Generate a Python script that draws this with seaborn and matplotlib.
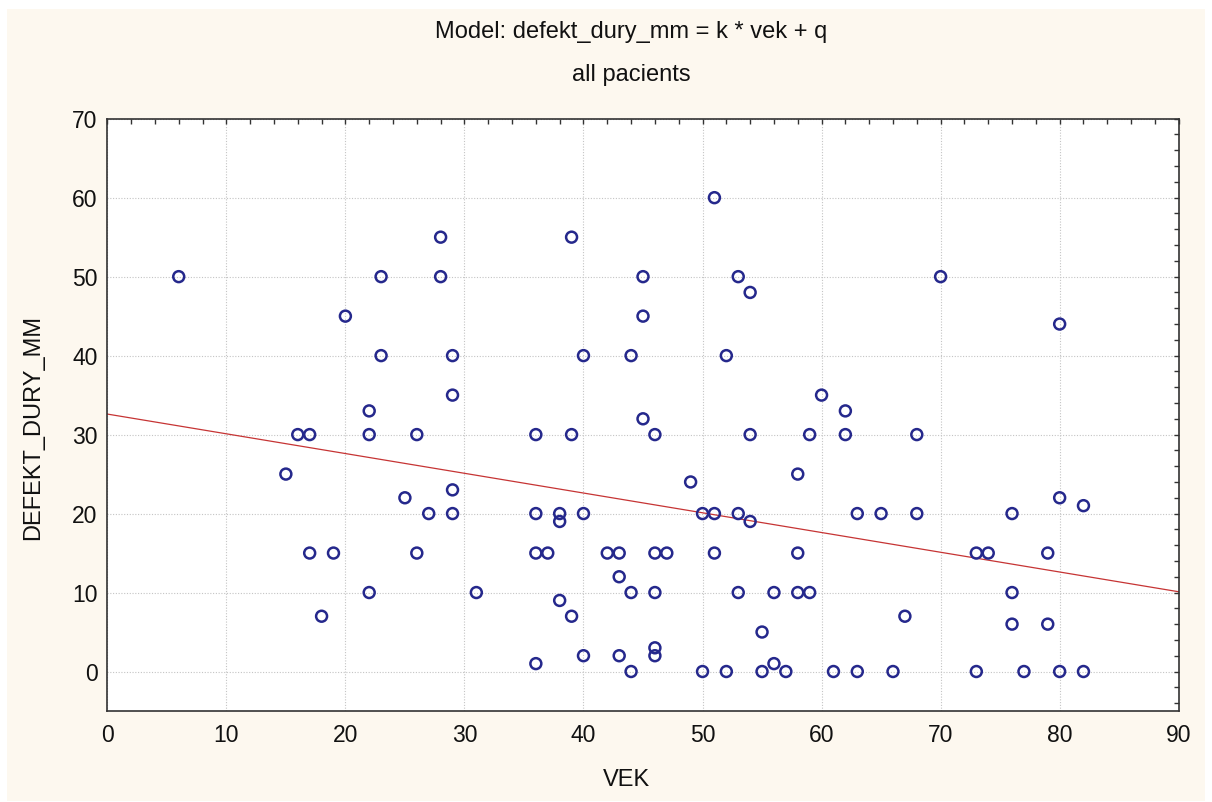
import numpy as np
import pandas as pd
import matplotlib
matplotlib.use("Agg")
import matplotlib.pyplot as plt
from matplotlib.patches import Rectangle
from matplotlib.ticker import MultipleLocator
import seaborn as sns

# Patient age (years) and dural defect size (mm)
vek = [6, 15, 16, 17, 17, 18, 19, 20, 22, 22, 22, 23, 23, 25, 26, 26, 27, 28, 28,
       29, 29, 29, 29, 31, 36, 36, 36, 36, 37, 38, 38, 38, 39, 39, 39, 40, 40, 40,
       42, 43, 43, 43, 44, 44, 44, 45, 45, 45, 46, 46, 46, 46, 46, 47, 49, 50, 50,
       51, 51, 51, 52, 52, 53, 53, 53, 54, 54, 54, 55, 55, 56, 56, 57, 58, 58, 58,
       59, 59, 60, 61, 62, 62, 63, 63, 65, 66, 67, 68, 68, 70, 73, 74, 73, 76, 76,
       76, 77, 79, 79, 80, 80, 80, 82, 82]
defekt_dury_mm = [50, 25, 30, 30, 15, 7, 15, 45, 33, 30, 10, 50, 40, 22, 30, 15, 20, 55, 50,
                  40, 35, 23, 20, 10, 30, 20, 15, 1, 15, 20, 19, 9, 55, 30, 7, 40, 20, 2,
                  15, 15, 12, 2, 40, 10, 0, 50, 45, 32, 30, 15, 10, 3, 2, 15, 24, 20, 0,
                  60, 20, 15, 40, 0, 50, 20, 10, 48, 30, 19, 5, 0, 10, 1, 0, 25, 15, 10,
                  30, 10, 35, 0, 33, 30, 20, 0, 20, 0, 7, 30, 20, 50, 15, 15, 0, 20, 10,
                  6, 0, 15, 6, 44, 22, 0, 21, 0]

# Linear model defekt_dury_mm = k * vek + q
k = -0.25
q = 32.6

x_range = [0, 90]
y_range = [-5, 70]

title_lines = ["Model: defekt_dury_mm = k * vek + q", "all pacients"]

df = pd.DataFrame({"VEK": vek, "DEFEKT_DURY_MM": defekt_dury_mm})
line_df = pd.DataFrame({"VEK": x_range})
line_df["fit"] = k * line_df["VEK"] + q

sns.set_theme(style="white")
plt.rcParams["font.family"] = ["Liberation Sans", "DejaVu Sans"]

W, H = 1212, 802
fig = plt.figure(figsize=(W / 100, H / 100), dpi=100, facecolor="white")
fig.patches.append(Rectangle((7 / W, 1 / H), (1205 - 7) / W, (793 - 1) / H,
                             transform=fig.transFigure, facecolor="#fdf8ef",
                             edgecolor="none", zorder=-10))

ax = fig.add_axes([107.3 / W, (H - 711) / H, 1071.4 / W, 592.3 / H])
ax.set_facecolor("white")

sns.lineplot(data=line_df, x="VEK", y="fit", ax=ax, color="#c63434",
             linewidth=0.9, zorder=2)
sns.scatterplot(data=df, x="VEK", y="DEFEKT_DURY_MM", ax=ax, marker="o", s=62,
                facecolor="none", edgecolor="#25288c", linewidth=1.8, zorder=3)

ax.set_xlim(*x_range)
ax.set_ylim(*y_range)
ax.xaxis.set_major_locator(MultipleLocator(10))
ax.xaxis.set_minor_locator(MultipleLocator(2))
ax.yaxis.set_major_locator(MultipleLocator(10))
ax.yaxis.set_minor_locator(MultipleLocator(2))

ax.grid(which="major", linestyle=(0, (1, 1.5)), color="#c4c4c4", linewidth=0.8)
ax.set_axisbelow(True)

ax.tick_params(which="both", direction="in", top=True, right=True,
               length=3.5, width=1.0, color="#333333")
ax.tick_params(axis="x", which="major", labelsize=16.5, pad=9, labelcolor="#111111")
ax.tick_params(axis="y", which="major", labelsize=16.5, pad=7, labelcolor="#111111")
for sp in ax.spines.values():
    sp.set_color("#333333")
    sp.set_linewidth(1.2)

ax.set_xlabel("VEK", fontsize=17, color="#111111")
ax.set_ylabel("DEFEKT_DURY_MM", fontsize=17, color="#111111")
ax.xaxis.label.set_va("center")
ax.yaxis.label.set_va("center")
ax.xaxis.set_label_coords((626 - 107.3) / 1071.4, (711 - 780) / 592.3)
ax.yaxis.set_label_coords((33 - 107.3) / 1071.4, (711 - 427) / 592.3)

fig.text(631 / W, 1 - 32 / H, title_lines[0], ha="center", va="center",
         fontsize=17, color="#111111")
fig.text(631 / W, 1 - 75 / H, title_lines[1], ha="center", va="center",
         fontsize=17, color="#111111")

fig.savefig("out.png", dpi=100, facecolor=fig.get_facecolor())
